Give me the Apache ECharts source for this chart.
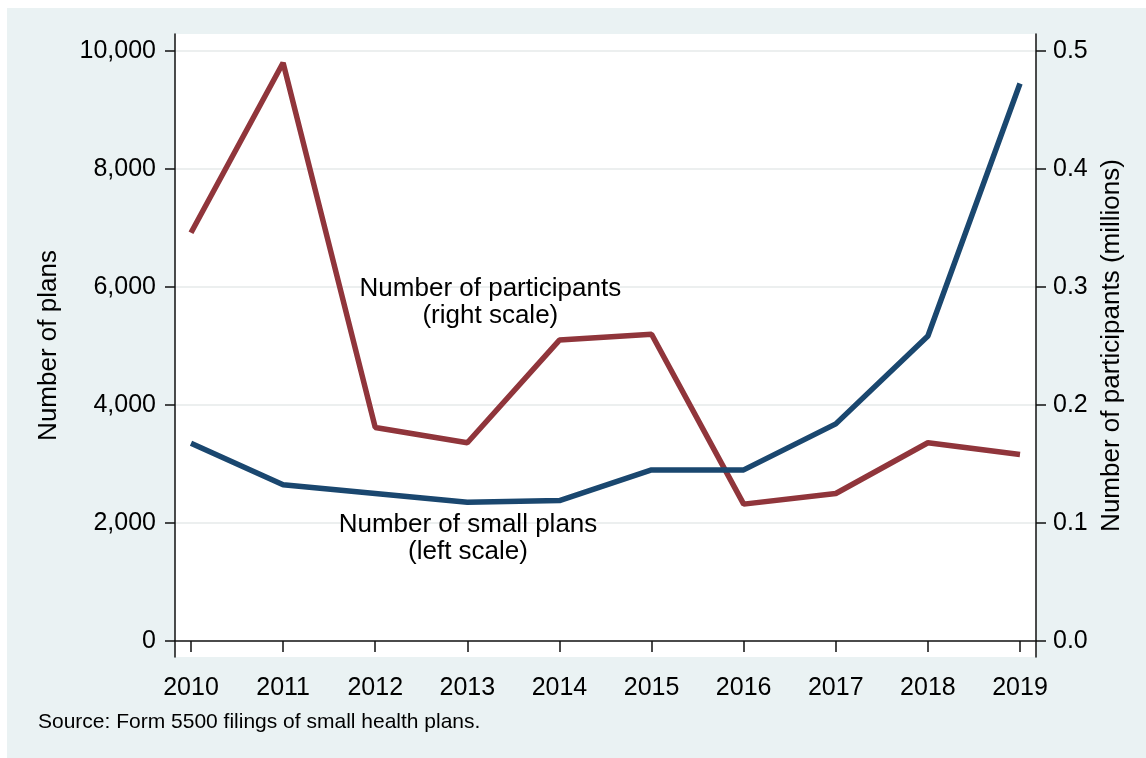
<!DOCTYPE html>
<html>
<head>
<meta charset="utf-8">
<script src="https://cdn.jsdelivr.net/npm/echarts@6/dist/echarts.min.js"></script>
<style>
  html, body { margin: 0; padding: 0; background: #EAF2F3; overflow: hidden; }
  #topstrip { position: absolute; left: 0; top: 0; width: 1146px; height: 8px; background: #ffffff; }
  #leftstrip { position: absolute; left: 0; top: 0; width: 7px; height: 758px; background: #ffffff; }
  #c { position: absolute; left: 7px; top: 8px; width: 1139px; height: 750px; }
</style>
</head>
<body>
<div id="topstrip"></div>
<div id="leftstrip"></div>
<div id="c"></div>
<script>
// ---- data ----
const years = [2010, 2011, 2012, 2013, 2014, 2015, 2016, 2017, 2018, 2019];
const smallPlans = [3350, 2650, 2500, 2350, 2380, 2900, 2900, 3680, 5170, 9450];           // left scale
const participantsMillions = [0.346, 0.490, 0.181, 0.168, 0.255, 0.260, 0.116, 0.125, 0.168, 0.158]; // right scale
const leftTicks = [0, 2000, 4000, 6000, 8000, 10000];
const rightTicks = [0, 0.1, 0.2, 0.3, 0.4, 0.5];
const xTicks = years;

const FONT = 'Arial, "Liberation Sans", Helvetica, sans-serif';
const RED = '#90353B';
const BLUE = '#1A476F';
const AXIS = '#111111';

const chart = echarts.init(document.getElementById('c'), null, { renderer: 'canvas' });

const option = {
  animation: false,
  backgroundColor: '#EAF2F3',
  textStyle: { fontFamily: FONT, color: '#000' },
  title: {
    text: 'Source: Form 5500 filings of small health plans.',
    left: 31, top: 704, padding: 0,
    textStyle: { fontFamily: FONT, fontSize: 21, fontWeight: 'normal', color: '#000' }
  },
  grid: {
    left: 168, top: 26, right: 110, bottom: 101,
    show: true, backgroundColor: '#ffffff', borderWidth: 0
  },
  xAxis: {
    type: 'value',
    min: 2009.8263, max: 2019.1737,
    axisLine: { show: true, lineStyle: { color: AXIS, width: 1.5 } },
    axisTick: { show: true, length: 11, lineStyle: { color: AXIS, width: 1.5 }, customValues: xTicks },
    axisLabel: { customValues: xTicks, fontSize: 25, color: '#000', margin: 19, formatter: v => String(v) },
    splitLine: { show: false }
  },
  yAxis: [
    {
      type: 'value', position: 'left',
      min: -271.19, max: 10288.1,
      name: 'Number of plans', nameLocation: 'middle', nameGap: 113,
      nameTextStyle: { fontSize: 26, color: '#000' },
      axisLine: { show: true, lineStyle: { color: AXIS, width: 1.5 } },
      axisTick: { show: true, length: 10, lineStyle: { color: AXIS, width: 1.5 }, customValues: leftTicks },
      axisLabel: { customValues: leftTicks, fontSize: 25, color: '#000', margin: 19,
        formatter: v => Math.round(v).toLocaleString('en-US') },
      splitLine: { show: true, lineStyle: { color: ['rgba(0,0,0,0)', '#E6EAEA', '#E6EAEA', '#E6EAEA', '#E6EAEA', '#E6EAEA'], width: 1.5 } }
    },
    {
      type: 'value', position: 'right',
      min: -0.01356, max: 0.51441,
      name: 'Number of participants (millions)', nameLocation: 'middle', nameGap: 63,
      nameTextStyle: { fontSize: 26, color: '#000' },
      axisLine: { show: true, lineStyle: { color: AXIS, width: 1.5 } },
      axisTick: { show: true, length: 10, lineStyle: { color: AXIS, width: 1.5 }, customValues: rightTicks },
      axisLabel: { customValues: rightTicks, fontSize: 25, color: '#000', margin: 17,
        formatter: v => v.toFixed(1) },
      splitLine: { show: false }
    }
  ],
  series: [
    {
      name: 'Number of participants', type: 'line', yAxisIndex: 1,
      data: years.map((y, i) => [y, participantsMillions[i]]),
      symbol: 'none', lineStyle: { color: RED, width: 5.5 }, itemStyle: { color: RED },
      z: 3,
      markPoint: {
        symbol: 'circle', symbolSize: 0, silent: true,
        label: { show: true, position: 'inside', color: '#000', fontSize: 26, lineHeight: 27, align: 'center', fontFamily: FONT,
          formatter: 'Number of participants\n(right scale)' },
        data: [{ coord: [2013.25, 0.2870] }]
      }
    },
    {
      name: 'Number of small plans', type: 'line', yAxisIndex: 0,
      data: years.map((y, i) => [y, smallPlans[i]]),
      symbol: 'none', lineStyle: { color: BLUE, width: 5.5 }, itemStyle: { color: BLUE },
      z: 4,
      markPoint: {
        symbol: 'circle', symbolSize: 0, silent: true,
        label: { show: true, position: 'inside', color: '#000', fontSize: 26, lineHeight: 27, align: 'center', fontFamily: FONT,
          formatter: 'Number of small plans\n(left scale)' },
        data: [{ coord: [2013.007, 1737] }]
      }
    }
  ]
};

chart.setOption(option);
</script>
</body>
</html>
